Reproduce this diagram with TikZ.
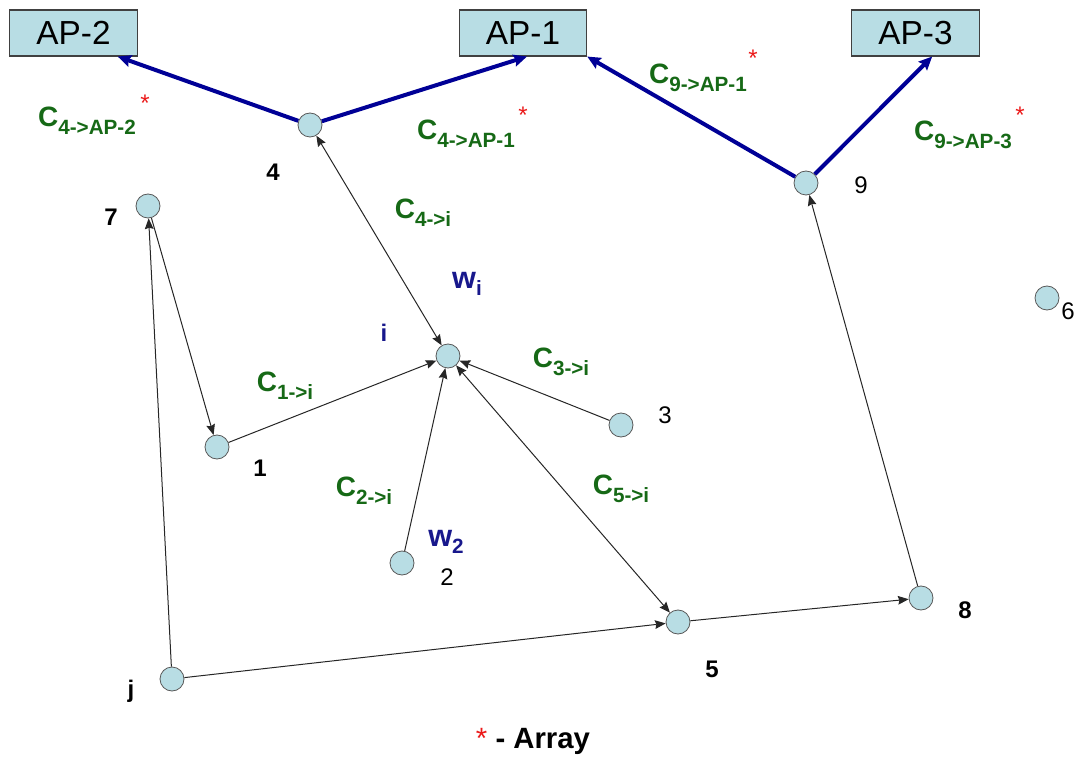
\documentclass[tikz,border=0pt]{standalone}
\usepackage{fontspec}
\setmainfont{Liberation Sans}
\usetikzlibrary{arrows.meta}

\definecolor{nodefill}{RGB}{184,221,228}
\definecolor{linkblue}{RGB}{0,0,150}
\definecolor{costgreen}{RGB}{22,105,22}
\definecolor{weightblue}{RGB}{24,24,140}
\definecolor{starred}{RGB}{235,25,25}

% cost label: big C with a lowered, smaller index
\newcommand{\costlab}[1]{{\fontsize{21}{22}\selectfont C}\raisebox{-6pt}{\fontsize{15.5}{16}\selectfont #1}}
% weight label: w with a lowered index
\newcommand{\weightlab}[1]{{\fontsize{23}{24}\selectfont w}\raisebox{-5pt}{\fontsize{15.5}{16}\selectfont #1}}

\tikzset{
  sensor/.style={circle, draw=black!65, fill=nodefill, line width=0.6pt,
                 minimum size=18pt, inner sep=0pt},
  apbox/.style={draw=black!75, fill=nodefill, line width=0.8pt,
                minimum width=95.5pt, minimum height=34.5pt, inner sep=0pt,
                font=\fontsize{25}{27}\selectfont},
  numlab/.style={font=\fontsize{18}{19}\selectfont\bfseries, inner sep=0pt},
  numlabr/.style={font=\fontsize{18}{19}\selectfont, inner sep=0pt},
  cost/.style={text=costgreen, font=\bfseries, inner sep=0pt},
  weight/.style={text=weightblue, font=\bfseries, inner sep=0pt},
  arraystar/.style={text=starred, font=\fontsize{18}{19}\selectfont, inner sep=0pt},
  link/.style={line width=3pt, draw=linkblue,
               -{Stealth[length=10pt,width=9pt,inset=1.5pt]}},
  flow/.style={line width=0.75pt, draw=black!85,
               -{Stealth[length=8pt,width=6.5pt,inset=1pt]}},
  flowboth/.style={line width=0.75pt, draw=black!85,
               {Stealth[length=8pt,width=6.5pt,inset=1pt]}-{Stealth[length=8pt,width=6.5pt,inset=1pt]}}
}

\begin{document}
\begin{tikzpicture}[x=0.75pt, y=-0.75pt]
\useasboundingbox (0,0) rectangle (1079,763);

% access points
\node[apbox] (ap2) at (73.5,33) {AP-2};
\node[apbox] (ap1) at (523,33) {AP-1};
\node[apbox] (ap3) at (915.5,33) {AP-3};

% sensor nodes
\node[sensor] (n4) at (310,125) {};
\node[sensor] (n7) at (148,206) {};
\node[sensor] (n1) at (217,447) {};
\node[sensor] (ni) at (448,356) {};
\node[sensor] (n3) at (621,425) {};
\node[sensor] (n2) at (402,563) {};
\node[sensor] (n5) at (678,622) {};
\node[sensor] (n8) at (921,598) {};
\node[sensor] (nj) at (172,679) {};
\node[sensor] (n9) at (806,183) {};
\node[sensor] (n6) at (1047,298) {};

% node names
\node[numlab] (l4) at (273,172) {4};
\node[numlab] (l7) at (111,217) {7};
\node[numlab] (l1) at (260,468) {1};
\node[numlab, text=weightblue] (li) at (384,333) {i};
\node[numlabr] (l3) at (665,415) {3};
\node[numlabr] (l2) at (447,577) {2};
\node[numlab] (l5) at (712,669) {5};
\node[numlab] (l8) at (965,610) {8};
\node[numlab] (lj) at (131,691) {j};
\node[numlabr] (l9) at (861,185) {9};
\node[numlabr] (l6) at (1068,311) {6};

% uplinks to the access points
\draw[link] (n4) -- ([xshift=-15pt]ap2.south east);
\draw[link] (n4) -- ([xshift=3pt]ap1.south);
\draw[link] (n9) -- (ap1.south east);
\draw[link] (n9) -- ([xshift=12.5pt]ap3.south);

% data flows between sensors
\draw[flowboth] (n4) -- (ni);
\draw[flow] (n7) -- (n1);
\draw[flow] (nj) -- (n7);
\draw[flow] (n1) -- (ni);
\draw[flow] (n2) -- (ni);
\draw[flow] (n3) -- (ni);
\draw[flowboth] (ni) -- (n5);
\draw[flow] (nj) -- (n5);
\draw[flow] (n5) -- (n8);
\draw[flow] (n8) -- (n9);

% link costs
\node[cost] (c4ap2) at (87,121) {\costlab{4->AP-2}};
\node[arraystar] (s4ap2) at (145,103) {*};
\node[cost] (c4ap1) at (466,134) {\costlab{4->AP-1}};
\node[arraystar] (s4ap1) at (523,115) {*};
\node[cost] (c9ap1) at (698,78) {\costlab{9->AP-1}};
\node[arraystar] (s9ap1) at (753,58) {*};
\node[cost] (c9ap3) at (963,135) {\costlab{9->AP-3}};
\node[arraystar] (s9ap3) at (1020,115) {*};
\node[cost] (c4i) at (423,213) {\costlab{4->i}};
\node[cost] (c1i) at (285,386) {\costlab{1->i}};
\node[cost] (c3i) at (561,362) {\costlab{3->i}};
\node[cost] (c2i) at (364,491) {\costlab{2->i}};
\node[cost] (c5i) at (621,489) {\costlab{5->i}};

% weights
\node[weight] (wi) at (467,284) {\weightlab{i}};
\node[weight] (w2) at (446,542) {\weightlab{2}};

% legend
\node[font=\fontsize{22}{24}\selectfont\bfseries, inner sep=0pt] (legend) at (533,741)
  {\textcolor{starred}{\mdseries *} - Array};
\end{tikzpicture}
\end{document}
